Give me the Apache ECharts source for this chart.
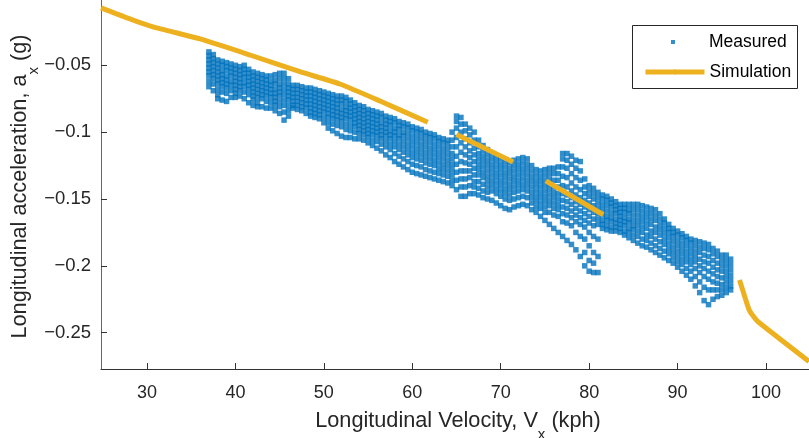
<!DOCTYPE html>
<html>
<head>
<meta charset="utf-8">
<script src="https://cdn.jsdelivr.net/npm/echarts@6/dist/echarts.min.js"></script>
<style>html,body{margin:0;padding:0;background:#fff}#c{width:809px;height:438px}</style>
</head>
<body>
<div id="c"></div>
<script>
// ---------- DATA ----------
const xTickStep = 10;
const yTickStep = 0.05;

// Simulation curve (null = gap)
const simX = [24.8, 27.5, 30.6, 36.0, 41.65, 47.3, 51.8, 56.35, 61.75, 63.4, 65.0, 71.4, 73.2, 75.1, 81.6, 89.0, 97.0, 97.6, 98.1, 98.55, 99.1, 104.86];
const simY = [-0.0071, -0.0139, -0.0210, -0.0303, -0.0423, -0.0548, -0.0640, -0.0767, -0.0926, null, -0.1018, -0.1223, null, -0.1365, -0.1618, null, -0.2106, -0.2231, -0.2330, -0.2375, -0.2418, -0.2715];

// Measured points, read column by column (x in kph, y values in g)
const measuredX = [37.0,37.5,38.0,38.5,39.0,39.5,40.0,40.5,41.0,41.5,42.0,42.5,43.0,43.5,44.0,44.5,45.0,45.5,46.0,46.5,47.0,47.5,48.0,48.5,49.0,49.5,50.0,50.5,51.0,51.5,52.0,52.5,53.0,53.5,54.0,54.5,55.0,55.5,56.0,56.5,57.0,57.5,58.0,58.5,59.0,59.5,60.0,60.5,61.0,61.5,62.0,62.5,63.0,63.5,64.0,64.5,65.0,65.5,66.0,66.5,67.0,67.5,68.0,68.5,69.0,69.5,70.0,70.5,71.0,71.5,72.0,72.5,73.0,73.5,74.0,74.5,75.0,75.5,76.0,76.5,77.0,77.5,78.0,78.5,79.0,79.5,80.0,80.5,81.0,81.5,82.0,82.5,83.0,83.5,84.0,84.5,85.0,85.5,86.0,86.5,87.0,87.5,88.0,88.5,89.0,89.5,90.0,90.5,91.0,91.5,92.0,92.5,93.0,93.5,94.0,94.5,95.0,95.5,96.0];
const measuredY = [
[-0.040,-0.043,-0.046,-0.049,-0.052,-0.055,-0.058,-0.062,-0.066],
[-0.042,-0.045,-0.048,-0.051,-0.054,-0.057,-0.060,-0.064,-0.069],
[-0.046,-0.049,-0.052,-0.055,-0.058,-0.061,-0.064,-0.068,-0.072,-0.075],
[-0.047,-0.050,-0.054,-0.057,-0.060,-0.063,-0.066,-0.070,-0.076],
[-0.048,-0.051,-0.054,-0.058,-0.061,-0.064,-0.067,-0.071,-0.077],
[-0.049,-0.052,-0.055,-0.058,-0.062,-0.065,-0.069,-0.074],
[-0.050,-0.053,-0.056,-0.059,-0.062,-0.065,-0.068,-0.071,-0.074],
[-0.051,-0.054,-0.057,-0.060,-0.063,-0.066,-0.069,-0.073],
[-0.050,-0.053,-0.056,-0.059,-0.063,-0.066,-0.070,-0.075],
[-0.053,-0.056,-0.059,-0.062,-0.065,-0.068,-0.072,-0.078],
[-0.055,-0.058,-0.061,-0.064,-0.067,-0.070,-0.073,-0.076,-0.080],
[-0.056,-0.059,-0.062,-0.065,-0.068,-0.071,-0.074,-0.078,-0.081],
[-0.057,-0.060,-0.063,-0.066,-0.069,-0.072,-0.075,-0.081],
[-0.058,-0.061,-0.064,-0.067,-0.070,-0.073,-0.077,-0.082],
[-0.058,-0.062,-0.065,-0.068,-0.071,-0.074,-0.078,-0.082],
[-0.057,-0.061,-0.064,-0.068,-0.071,-0.074,-0.077,-0.080,-0.084],
[-0.056,-0.060,-0.064,-0.067,-0.070,-0.073,-0.077,-0.081,-0.086],
[-0.056,-0.060,-0.064,-0.068,-0.072,-0.076,-0.080,-0.085,-0.091],
[-0.060,-0.064,-0.067,-0.070,-0.073,-0.076,-0.080,-0.084,-0.088],
[-0.065,-0.068,-0.071,-0.074,-0.077,-0.080,-0.082],
[-0.065,-0.068,-0.071,-0.074,-0.077,-0.080,-0.083],
[-0.066,-0.069,-0.072,-0.075,-0.078,-0.081,-0.084],
[-0.067,-0.070,-0.073,-0.076,-0.079,-0.082,-0.086],
[-0.067,-0.070,-0.073,-0.076,-0.079,-0.082,-0.085,-0.088],
[-0.068,-0.071,-0.074,-0.077,-0.080,-0.083,-0.086,-0.089],
[-0.069,-0.072,-0.075,-0.078,-0.081,-0.084,-0.087,-0.090],
[-0.070,-0.073,-0.076,-0.079,-0.082,-0.085,-0.089,-0.093],
[-0.071,-0.074,-0.077,-0.080,-0.083,-0.086,-0.089,-0.093,-0.097],
[-0.072,-0.075,-0.078,-0.081,-0.084,-0.087,-0.090,-0.094,-0.099],
[-0.073,-0.076,-0.079,-0.082,-0.085,-0.088,-0.091,-0.095,-0.101],
[-0.073,-0.076,-0.079,-0.083,-0.086,-0.089,-0.092,-0.096,-0.103],
[-0.074,-0.077,-0.081,-0.084,-0.087,-0.090,-0.094,-0.098,-0.104],
[-0.076,-0.079,-0.082,-0.085,-0.088,-0.091,-0.095,-0.099,-0.104],
[-0.078,-0.081,-0.084,-0.087,-0.090,-0.093,-0.096,-0.100,-0.105],
[-0.080,-0.083,-0.086,-0.089,-0.092,-0.095,-0.098,-0.101,-0.105],
[-0.081,-0.084,-0.087,-0.090,-0.093,-0.096,-0.099,-0.102,-0.106],
[-0.083,-0.086,-0.089,-0.092,-0.095,-0.098,-0.101,-0.104,-0.108],
[-0.084,-0.087,-0.090,-0.093,-0.096,-0.099,-0.102,-0.106,-0.110],
[-0.085,-0.088,-0.091,-0.094,-0.097,-0.100,-0.103,-0.107,-0.112],
[-0.086,-0.089,-0.093,-0.096,-0.099,-0.102,-0.105,-0.109,-0.114],
[-0.088,-0.091,-0.094,-0.097,-0.100,-0.103,-0.107,-0.111,-0.117],
[-0.089,-0.092,-0.095,-0.099,-0.102,-0.105,-0.109,-0.113,-0.119],
[-0.090,-0.093,-0.097,-0.100,-0.103,-0.107,-0.111,-0.116,-0.122],
[-0.092,-0.095,-0.098,-0.102,-0.105,-0.109,-0.113,-0.118,-0.124],
[-0.093,-0.096,-0.100,-0.103,-0.107,-0.111,-0.115,-0.120,-0.126],
[-0.094,-0.097,-0.101,-0.105,-0.109,-0.113,-0.117,-0.122,-0.128],
[-0.096,-0.099,-0.103,-0.107,-0.111,-0.115,-0.119,-0.124,-0.130],
[-0.097,-0.100,-0.104,-0.108,-0.112,-0.116,-0.120,-0.125,-0.131],
[-0.098,-0.101,-0.105,-0.109,-0.113,-0.117,-0.121,-0.126,-0.132],
[-0.100,-0.103,-0.107,-0.111,-0.115,-0.119,-0.123,-0.128,-0.133],
[-0.101,-0.104,-0.108,-0.112,-0.116,-0.120,-0.124,-0.129,-0.134],
[-0.102,-0.105,-0.109,-0.113,-0.117,-0.121,-0.125,-0.130,-0.135],
[-0.104,-0.107,-0.111,-0.115,-0.119,-0.123,-0.127,-0.131,-0.136],
[-0.105,-0.108,-0.112,-0.116,-0.120,-0.124,-0.128,-0.132,-0.137],
[-0.106,-0.109,-0.113,-0.117,-0.121,-0.125,-0.129,-0.133,-0.138],
[-0.100,-0.106,-0.111,-0.116,-0.120,-0.124,-0.128,-0.132,-0.136,-0.140],
[-0.088,-0.092,-0.097,-0.104,-0.111,-0.118,-0.124,-0.130,-0.136,-0.143],
[-0.089,-0.094,-0.100,-0.108,-0.115,-0.122,-0.129,-0.135,-0.141,-0.148],
[-0.094,-0.099,-0.105,-0.111,-0.117,-0.123,-0.129,-0.135,-0.141,-0.148],
[-0.097,-0.102,-0.108,-0.114,-0.119,-0.124,-0.129,-0.134,-0.140,-0.146],
[-0.100,-0.106,-0.112,-0.117,-0.122,-0.127,-0.132,-0.137,-0.141,-0.146],
[-0.106,-0.111,-0.116,-0.120,-0.124,-0.128,-0.132,-0.137,-0.142,-0.147],
[-0.110,-0.114,-0.118,-0.122,-0.126,-0.130,-0.134,-0.139,-0.144,-0.149],
[-0.113,-0.117,-0.121,-0.125,-0.129,-0.133,-0.137,-0.141,-0.145,-0.150],
[-0.116,-0.120,-0.124,-0.128,-0.132,-0.136,-0.140,-0.144,-0.151],
[-0.118,-0.122,-0.126,-0.130,-0.134,-0.138,-0.142,-0.146,-0.153],
[-0.120,-0.124,-0.128,-0.132,-0.136,-0.140,-0.144,-0.148,-0.155],
[-0.122,-0.126,-0.130,-0.134,-0.138,-0.142,-0.146,-0.150,-0.157],
[-0.123,-0.127,-0.131,-0.135,-0.139,-0.143,-0.147,-0.151,-0.158],
[-0.121,-0.125,-0.129,-0.133,-0.137,-0.141,-0.145,-0.150,-0.156],
[-0.120,-0.124,-0.128,-0.132,-0.136,-0.140,-0.144,-0.149,-0.155],
[-0.119,-0.123,-0.127,-0.131,-0.135,-0.139,-0.143,-0.148,-0.154],
[-0.120,-0.124,-0.128,-0.132,-0.136,-0.140,-0.144,-0.149,-0.155],
[-0.125,-0.129,-0.133,-0.137,-0.141,-0.145,-0.149,-0.153,-0.158],
[-0.128,-0.132,-0.136,-0.140,-0.144,-0.148,-0.152,-0.156,-0.160],
[-0.129,-0.133,-0.137,-0.141,-0.145,-0.149,-0.153,-0.157,-0.163],
[-0.128,-0.132,-0.136,-0.140,-0.144,-0.148,-0.152,-0.156,-0.160,-0.166],
[-0.127,-0.131,-0.135,-0.139,-0.143,-0.147,-0.151,-0.155,-0.160,-0.169],
[-0.127,-0.131,-0.136,-0.141,-0.145,-0.149,-0.153,-0.157,-0.162,-0.172],
[-0.126,-0.131,-0.136,-0.141,-0.146,-0.150,-0.154,-0.158,-0.163,-0.175],
[-0.116,-0.120,-0.126,-0.133,-0.140,-0.146,-0.151,-0.156,-0.161,-0.167,-0.178],
[-0.116,-0.121,-0.127,-0.134,-0.141,-0.147,-0.152,-0.157,-0.162,-0.168,-0.181],
[-0.118,-0.124,-0.131,-0.138,-0.144,-0.149,-0.154,-0.159,-0.164,-0.170,-0.184],
[-0.121,-0.127,-0.134,-0.141,-0.147,-0.152,-0.157,-0.162,-0.167,-0.175,-0.188],
[-0.122,-0.129,-0.136,-0.143,-0.149,-0.154,-0.159,-0.164,-0.169,-0.178,-0.193],
[-0.135,-0.141,-0.146,-0.151,-0.156,-0.161,-0.166,-0.171,-0.180,-0.190,-0.200],
[-0.140,-0.144,-0.148,-0.153,-0.158,-0.163,-0.168,-0.175,-0.185,-0.196,-0.204],
[-0.142,-0.146,-0.150,-0.155,-0.160,-0.165,-0.170,-0.178,-0.190,-0.198,-0.205],
[-0.145,-0.149,-0.153,-0.157,-0.161,-0.165,-0.169,-0.180,-0.193,-0.205],
[-0.147,-0.150,-0.154,-0.158,-0.162,-0.166,-0.169,-0.172],
[-0.148,-0.151,-0.155,-0.159,-0.163,-0.166,-0.170,-0.173],
[-0.150,-0.153,-0.156,-0.160,-0.164,-0.167,-0.171,-0.174],
[-0.152,-0.155,-0.158,-0.161,-0.165,-0.168,-0.171,-0.174],
[-0.154,-0.157,-0.160,-0.163,-0.166,-0.169,-0.172,-0.175],
[-0.154,-0.157,-0.160,-0.164,-0.167,-0.170,-0.174,-0.177],
[-0.154,-0.158,-0.161,-0.165,-0.168,-0.172,-0.175,-0.179],
[-0.154,-0.158,-0.162,-0.166,-0.170,-0.173,-0.177,-0.181],
[-0.154,-0.158,-0.162,-0.166,-0.170,-0.174,-0.178,-0.183],
[-0.155,-0.159,-0.163,-0.167,-0.171,-0.175,-0.180,-0.185],
[-0.156,-0.160,-0.164,-0.168,-0.172,-0.177,-0.181,-0.186],
[-0.157,-0.161,-0.165,-0.169,-0.174,-0.178,-0.183,-0.188],
[-0.158,-0.162,-0.166,-0.171,-0.175,-0.180,-0.185,-0.190],
[-0.161,-0.165,-0.169,-0.173,-0.177,-0.182,-0.187,-0.192],
[-0.165,-0.168,-0.172,-0.176,-0.180,-0.184,-0.189,-0.194],
[-0.169,-0.172,-0.175,-0.179,-0.183,-0.187,-0.191,-0.196],
[-0.172,-0.175,-0.178,-0.182,-0.186,-0.190,-0.194,-0.198],
[-0.174,-0.177,-0.181,-0.185,-0.189,-0.193,-0.197,-0.201],
[-0.176,-0.179,-0.183,-0.187,-0.191,-0.195,-0.199,-0.204],
[-0.178,-0.181,-0.185,-0.189,-0.193,-0.197,-0.202,-0.207],
[-0.180,-0.183,-0.187,-0.191,-0.195,-0.199,-0.204,-0.210],
[-0.181,-0.185,-0.189,-0.193,-0.197,-0.202,-0.208,-0.215],
[-0.182,-0.186,-0.190,-0.195,-0.200,-0.205,-0.212,-0.220],
[-0.183,-0.187,-0.192,-0.197,-0.202,-0.208,-0.216,-0.226],
[-0.184,-0.188,-0.193,-0.198,-0.204,-0.210,-0.218,-0.229],
[-0.187,-0.191,-0.196,-0.201,-0.206,-0.212,-0.218,-0.225],
[-0.189,-0.193,-0.198,-0.203,-0.208,-0.213,-0.218,-0.223],
[-0.192,-0.196,-0.200,-0.204,-0.209,-0.214,-0.218,-0.222],
[-0.192,-0.196,-0.200,-0.204,-0.208,-0.212,-0.216,-0.220],
[-0.195,-0.199,-0.203,-0.207,-0.211,-0.215,-0.218]
];

const xTitle = ['Longitudinal Velocity, V', 'x', ' (kph)'];
const yTitle = ['Longitudinal acceleration, a', 'x', ' (g)'];

// ---------- BUILD ----------
const FONT = '"Liberation Sans", Arial, Helvetica, sans-serif';
const measuredData = [];
measuredX.forEach((x, i) => measuredY[i].forEach(y => measuredData.push([x, y])));
const simData = simX.map((x, i) => [x, simY[i] === null ? '-' : simY[i]]);

const cv = document.createElement('canvas').getContext('2d');
function tw(s, size) { cv.font = size + 'px ' + FONT; return cv.measureText(s).width; }

const MAIN = 21.7, SUB = 15, SUBOFF = 14;
function titleParts(parts, cx, cy) {
  const w0 = tw(parts[0], MAIN), w1 = tw(parts[1], SUB), w2 = tw(parts[2], MAIN);
  const start = cx - (w0 + w1 + w2) / 2;
  const base = { fill: '#262626', fontFamily: FONT, verticalAlign: 'middle', align: 'left' };
  return [
    { type: 'text', x: start, y: cy, style: Object.assign({ text: parts[0], fontSize: MAIN }, base) },
    { type: 'text', x: start + w0, y: cy + SUBOFF, style: Object.assign({ text: parts[1], fontSize: SUB }, base) },
    { type: 'text', x: start + w0 + w1, y: cy, style: Object.assign({ text: parts[2], fontSize: MAIN }, base) }
  ];
}

const chart = echarts.init(document.getElementById('c'), null, { renderer: 'canvas' });
const yFmt = v => (Math.round(v * 100) / 100).toString().replace('-', '\u2212');

chart.setOption({
  animation: false,
  backgroundColor: '#fff',
  grid: { left: 101, top: 0, width: 708, height: 369, containLabel: false },
  xAxis: {
    type: 'value', min: 24.8, max: 104.86, minInterval: xTickStep, maxInterval: xTickStep,
    axisLine: { show: true, lineStyle: { color: '#333', width: 1 } },
    axisTick: { show: true, inside: true, length: 6, lineStyle: { color: '#333' } },
    axisLabel: { showMinLabel: false, showMaxLabel: false, margin: 15, fontSize: 18, fontFamily: FONT, color: '#262626' },
    splitLine: { show: false }
  },
  yAxis: {
    type: 'value', min: -0.27715, max: -0.00116, minInterval: yTickStep, maxInterval: yTickStep,
    axisLine: { show: true, lineStyle: { color: '#666', width: 1 } },
    axisTick: { show: true, inside: true, length: 6, lineStyle: { color: '#333' } },
    axisLabel: { showMinLabel: false, showMaxLabel: false, margin: 10, fontSize: 18.5, fontFamily: FONT, color: '#262626', formatter: yFmt },
    splitLine: { show: false }
  },
  legend: [
    { data: ['Measured'], left: 671, top: 32, padding: 0, itemWidth: 4, itemHeight: 4, icon: 'rect', selectedMode: false,
      textStyle: { fontSize: 17.5, fontFamily: FONT, color: '#000', lineHeight: 20, padding: [0, 0, 0, 29] } },
    { data: ['Simulation'], left: 643, top: 62, padding: 0, itemWidth: 59, itemHeight: 6, selectedMode: false,
      lineStyle: { width: 5 },
      textStyle: { fontSize: 17.5, fontFamily: FONT, color: '#000', lineHeight: 20 } }
  ],
  graphic: [
    { type: 'rect', z: 1, shape: { x: 632.5, y: 25.5, width: 165, height: 63 }, style: { fill: '#fff', stroke: '#262626', lineWidth: 1 } },
    { type: 'group', children: titleParts(xTitle, 458, 421) },
    { type: 'group', x: 19.7, y: 186.5, rotation: Math.PI / 2, children: titleParts(yTitle, 0, 0) }
  ],
  series: [
    { name: 'Measured', type: 'scatter', data: measuredData, symbol: 'rect', symbolSize: 5.5,
      itemStyle: { color: '#0072BD' }, z: 2, emphasis: { disabled: true } },
    { name: 'Simulation', type: 'line', data: simData, showSymbol: false, symbol: 'none', connectNulls: false, smooth: 0.2,
      lineStyle: { color: '#EDB120', width: 5 }, itemStyle: { color: '#EDB120' }, z: 3, clip: true }
  ]
});
</script>
</body>
</html>
